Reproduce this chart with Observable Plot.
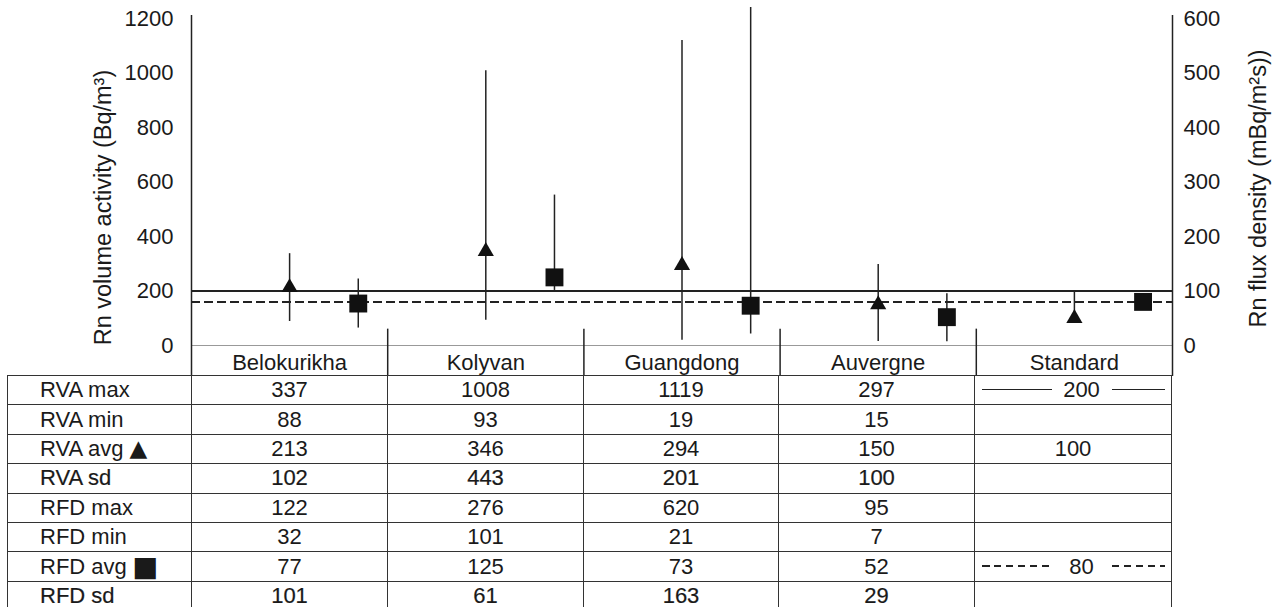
<!DOCTYPE html>
<html>
<head>
<meta charset="utf-8">
<script src="https://cdn.jsdelivr.net/npm/d3@7"></script>
<script src="https://cdn.jsdelivr.net/npm/@observablehq/plot@0.6"></script>
<style>
  body { margin: 0; background: #fff; font-family: "Liberation Sans", Arial, sans-serif; }
  #wrap { position: relative; width: 1279px; height: 607px; overflow: hidden; }
  #chart { position: absolute; left: 0; top: 0; }
  #stats {
    position: absolute; left: 7px; top: 375px;
    border-collapse: collapse; table-layout: fixed;
    font-size: 22px; color: #1a1a1a;
  }
  #stats td { border: 1.5px solid #333; padding: 0; text-align: center; white-space: nowrap; }
  #stats tr { height: 29.4px; }
  #stats td.lab { text-align: left; padding-left: 32px; }
  #stats tr.sd td { -webkit-text-stroke: 0.2px #1a1a1a; }
  .sym { display: inline-block; font-family: "DejaVu Sans", sans-serif; margin-left: 6px; }
  .sym.tri { transform: scale(1.05); }
  .sym.sq { transform: scale(1.25); margin-left: 8px; }
  .ln { display: inline-block; height: 1.6px; vertical-align: middle; position: relative; top: -2px; background: #222; }
  .ln.dash { background: repeating-linear-gradient(90deg, #222 0 7.5px, transparent 7.5px 12px); }
  .mid { display: inline-block; width: 60px; text-align: center; }
</style>
</head>
<body>
<div id="wrap">
  <div id="chart"></div>
  <table id="stats"></table>
</div>
<script>
// Radon measurements per site: volume activity (RVA, Bq/m³) and flux density (RFD, mBq/(m²s))
const sites  = ["Belokurikha", "Kolyvan", "Guangdong", "Auvergne", "Standard"];
const rvaMax = [337, 1008, 1119, 297, 200];
const rvaMin = [88, 93, 19, 15, null];
const rvaAvg = [213, 346, 294, 150, 100];
const rvaSd  = [102, 443, 201, 100, null];
const rfdMax = [122, 276, 620, 95, null];
const rfdMin = [32, 101, 21, 7, null];
const rfdAvg = [77, 125, 73, 52, 80];
const rfdSd  = [101, 61, 163, 29, null];

const rowNames = ["RVA max", "RVA min", "RVA avg", "RVA sd", "RFD max", "RFD min", "RFD avg", "RFD sd"];
const rowSymbols = [null, null, "▲", null, null, null, "■", null];
const rvaTicks = [0, 200, 400, 600, 800, 1000, 1200];

// The flux axis (0–600) shares the frame with the activity axis (0–1200)
const fluxFactor = 2;
const stdIndex = sites.indexOf("Standard");
const stdRva = rvaMax[stdIndex];
const stdRfd = rfdAvg[stdIndex];

const squareShift = 0.35;   // squares sit right of the triangle within each column
const dividerTop = 60;      // column separators rise a little above zero

const rvaPts = sites.map((s, i) => ({
  x: i + 0.5, avg: rvaAvg[i],
  lo: rvaMin[i] ?? rvaAvg[i], hi: rvaMax[i]
}));
const rfdPts = sites.map((s, i) => ({
  x: i + 0.5 + squareShift, avg: rfdAvg[i] * fluxFactor,
  lo: rfdMin[i] == null ? null : rfdMin[i] * fluxFactor,
  hi: rfdMax[i] == null ? null : rfdMax[i] * fluxFactor
}));

const font = '"Liberation Sans", Arial, sans-serif';
const ink = "#222";

const chart = Plot.plot({
  width: 1279,
  height: 376,
  marginLeft: 191,
  marginRight: 107,
  marginTop: 15,
  marginBottom: 31,
  style: { fontFamily: font, fontSize: "22px", color: "#1a1a1a", background: "transparent", overflow: "visible" },
  x: { type: "linear", domain: [0, sites.length], axis: null },
  y: { domain: [0, 1211], axis: null },
  marks: [
    Plot.ruleY([0], { stroke: "#999", strokeWidth: 1 }),
    Plot.ruleY([stdRva], { stroke: ink, strokeWidth: 2 }),
    Plot.ruleY([stdRfd * fluxFactor], { stroke: ink, strokeWidth: 2, strokeDasharray: "9,4" }),
    Plot.ruleX(d3.range(1, sites.length), { x: d => d, y1: dividerTop, y2: 0, insetBottom: -31, stroke: ink, strokeWidth: 1.5 }),
    Plot.ruleX([0, sites.length], { x: d => d, insetBottom: -31, stroke: ink, strokeWidth: 1.5 }),
    Plot.ruleX(rvaPts.filter(d => d.hi != null), { x: "x", y1: "lo", y2: "hi", stroke: ink, strokeWidth: 1.5 }),
    Plot.ruleX(rfdPts.filter(d => d.hi != null), { x: "x", y1: "lo", y2: "hi", stroke: ink, strokeWidth: 1.5 }),
    Plot.dot(rvaPts, { x: "x", y: "avg", symbol: "triangle", r: 6.0, fill: "#111", stroke: null }),
    Plot.dot(rfdPts, { x: "x", y: "avg", symbol: "square", r: 10.1, fill: "#111", stroke: null }),
    Plot.axisY({ ticks: rvaTicks, tickFormat: d => String(d), tickSize: 0, tickPadding: 18, label: null, fontSize: 22 }),
    Plot.axisY({ anchor: "right", ticks: rvaTicks, tickFormat: d => String(d / fluxFactor), tickSize: 0, tickPadding: 11, label: null, fontSize: 22 }),
    Plot.axisX({ ticks: sites.map((s, i) => i + 0.5), tickFormat: d => sites[Math.floor(d)], tickSize: 0, tickPadding: 9, label: null, fontSize: 22 }),
    Plot.text(["Rn volume activity (Bq/m³)"], { frameAnchor: "left", textAnchor: "middle", rotate: -90, dx: -88, dy: 27, fontSize: 23.5, fill: "#1a1a1a" }),
    Plot.text(["Rn flux density (mBq/m²s))"], { frameAnchor: "right", textAnchor: "middle", rotate: -90, dx: 86, dy: 8, fontSize: 23.5, fill: "#1a1a1a" })
  ]
});
document.getElementById("chart").appendChild(chart);

// Statistics table under the chart
const rows = [rvaMax, rvaMin, rvaAvg, rvaSd, rfdMax, rfdMin, rfdAvg, rfdSd];
const table = document.getElementById("stats");
const colgroup = document.createElement("colgroup");
[184, 196, 196, 195, 196, 197].forEach(w => {
  const c = document.createElement("col");
  c.style.width = w + "px";
  colgroup.appendChild(c);
});
table.appendChild(colgroup);

function standardCell(value, dashed) {
  const cls = dashed ? "ln dash" : "ln";
  return `<span class="${cls}" style="width:70px"></span><span class="mid">${value}</span><span class="${cls}" style="width:53px"></span>`;
}

rows.forEach((vals, r) => {
  const tr = document.createElement("tr");
  if (rowNames[r].endsWith("sd")) tr.className = "sd";
  const th = document.createElement("td");
  th.className = "lab";
  th.textContent = rowNames[r];
  if (rowSymbols[r]) {
    const s = document.createElement("span");
    s.className = "sym " + (rowSymbols[r] === "■" ? "sq" : "tri");
    s.textContent = rowSymbols[r];
    th.appendChild(s);
  }
  tr.appendChild(th);
  vals.forEach((v, c) => {
    const td = document.createElement("td");
    if (c === stdIndex && v != null && vals === rvaMax) td.innerHTML = standardCell(v, false);
    else if (c === stdIndex && v != null && vals === rfdAvg) td.innerHTML = standardCell(v, true);
    else td.textContent = v == null ? "" : v;
    tr.appendChild(td);
  });
  table.appendChild(tr);
});
</script>
</body>
</html>
